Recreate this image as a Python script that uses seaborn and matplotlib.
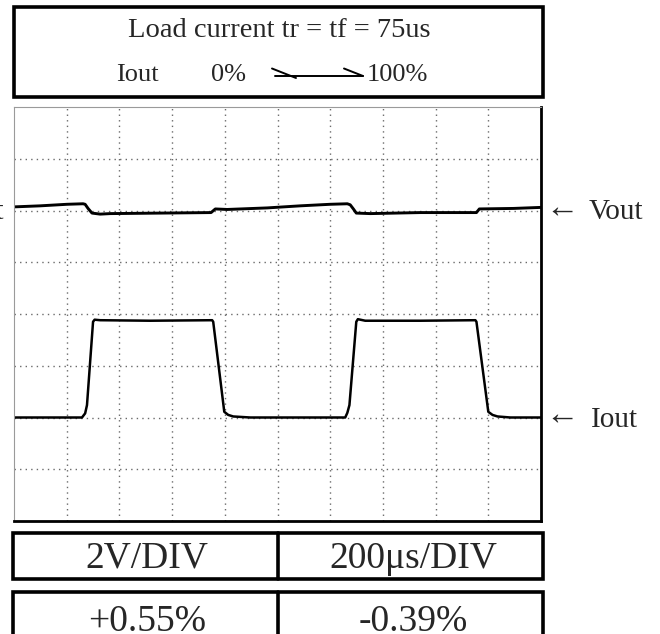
import matplotlib
matplotlib.use("Agg")
import matplotlib.pyplot as plt
import seaborn as sns
import pandas as pd
from matplotlib.lines import Line2D
from matplotlib.patches import Rectangle

# ---- data (time in microseconds, trace level in screen divisions) ----
vout_time = [0, 99, 201, 262, 270, 281, 296, 327, 365, 555, 748, 764, 809, 961,
             1086, 1200, 1265, 1276, 1288, 1299, 1352, 1542, 1755, 1766, 1896, 2000]
vout_level = [6.07, 6.09, 6.12, 6.13, 6.12, 6.04, 5.95, 5.93, 5.94, 5.95, 5.96, 6.03,
              6.02, 6.05, 6.09, 6.12, 6.13, 6.11, 6.03, 5.95, 5.94, 5.96, 5.96, 6.03,
              6.04, 6.06]
iout_time = [0, 258, 270, 277, 300, 306, 327, 517, 752, 756, 798, 813, 832, 897,
             1200, 1257, 1265, 1273, 1299, 1305, 1333, 1542, 1751, 1755, 1800, 1816,
             1835, 1884, 2000]
iout_level = [2.0, 2.0, 2.08, 2.24, 3.85, 3.89, 3.88, 3.87, 3.88, 3.85, 2.11, 2.05,
              2.02, 2.0, 2.0, 2.0, 2.09, 2.24, 3.85, 3.90, 3.87, 3.87, 3.88, 3.85,
              2.11, 2.05, 2.02, 2.0, 2.0]
title_line = "Load current tr = tf = 75us"
sub_items = ["Iout", "0%", "100%"]
scale_cells = ["2V/DIV", "200μs/DIV"]
result_cells = ["+0.55%", "-0.39%"]
trace_labels = ["Vout", "Iout"]
x_div, y_div = 200, 1
n_xdiv, n_ydiv = 10, 8

sns.set_style("white")
plt.rcParams["font.family"] = ["Liberation Serif", "DejaVu Serif"]

W, H = 660, 634
fig = plt.figure(figsize=(W / 100, H / 100), dpi=100)

def fx(x):
    return x / W

def fy(y):
    return 1 - y / H

ax = fig.add_axes([fx(14), fy(521), fx(541) - fx(14), fy(107) - fy(521)])

dv = pd.DataFrame({"t": vout_time, "v": vout_level})
di = pd.DataFrame({"t": iout_time, "v": iout_level})
sns.lineplot(data=dv, x="t", y="v", ax=ax, color="black", lw=2.1, sort=False)
sns.lineplot(data=di, x="t", y="v", ax=ax, color="black", lw=1.8, sort=False)

ax.set_xlim(0, x_div * n_xdiv)
ax.set_ylim(0, y_div * n_ydiv)
ax.set_xticks([x_div * i for i in range(1, n_xdiv)])
ax.set_yticks([y_div * i for i in range(1, n_ydiv)])
ax.set_xticklabels([])
ax.set_yticklabels([])
ax.tick_params(length=0)
ax.set_xlabel("")
ax.set_ylabel("")
ax.grid(True, color="#6a6a6a", lw=1.0, linestyle=(0, (1, 3)))
for s in ["left", "top"]:
    ax.spines[s].set_color("#9a9a9a")
    ax.spines[s].set_linewidth(0.8)
for s in ["right", "bottom"]:
    ax.spines[s].set_color("black")
    ax.spines[s].set_linewidth(2.0)

# ---- boxes ----
def box(x0, y0, x1, y1, lw=2.6):
    fig.patches.append(Rectangle((fx(x0), fy(y1)), fx(x1) - fx(x0), fy(y0) - fy(y1),
                                 transform=fig.transFigure, fill=False,
                                 edgecolor="black", lw=lw))

box(14, 7, 543, 97)
fig.text(fx(279), fy(37), title_line, ha="center", va="baseline", fontsize=20.5)
fig.text(fx(116), fy(81), sub_items[0], ha="left", va="baseline", fontsize=19)
fig.text(fx(211), fy(81), sub_items[1], ha="left", va="baseline", fontsize=19)
fig.text(fx(367), fy(81), sub_items[2], ha="left", va="baseline", fontsize=19)
for (xa, ya, xb, yb) in [(272, 68.5, 296, 78), (275, 76, 363, 76), (344, 68.5, 363, 76)]:
    fig.lines.append(Line2D([fx(xa), fx(xb)], [fy(ya), fy(yb)], transform=fig.transFigure,
                            color="black", lw=1.4))

# ---- trace labels ----
fig.text(fx(545), fy(217), "←", ha="left", va="baseline", fontsize=24)
fig.text(fx(589), fy(219), trace_labels[0], ha="left", va="baseline", fontsize=21)
fig.text(fx(545), fy(424), "←", ha="left", va="baseline", fontsize=24)
fig.text(fx(591), fy(427), trace_labels[1], ha="left", va="baseline", fontsize=21)
fig.text(fx(4), fy(219), trace_labels[0], ha="right", va="baseline", fontsize=21)

# ---- bottom boxes ----
box(13, 533, 543, 579)
fig.lines.append(Line2D([fx(278), fx(278)], [fy(533), fy(579)], transform=fig.transFigure,
                        color="black", lw=2.6))
fig.text(fx(147), fy(568), scale_cells[0], ha="center", va="baseline", fontsize=27)
fig.text(fx(413), fy(568), scale_cells[1], ha="center", va="baseline", fontsize=27)

box(13, 592, 543, 660)
fig.lines.append(Line2D([fx(278), fx(278)], [fy(592), fy(660)], transform=fig.transFigure,
                        color="black", lw=2.6))
fig.text(fx(147), fy(631), result_cells[0], ha="center", va="baseline", fontsize=27)
fig.text(fx(413), fy(631), result_cells[1], ha="center", va="baseline", fontsize=27)

fig.savefig("out.png", dpi=100)
